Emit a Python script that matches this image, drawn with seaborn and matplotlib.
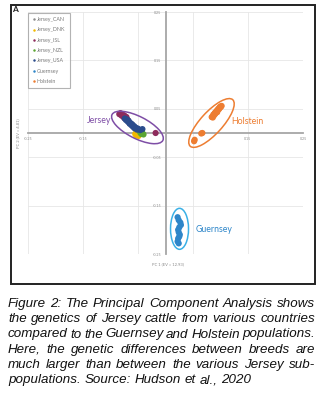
import numpy as np
import pandas as pd
import matplotlib
matplotlib.use("Agg")
import matplotlib.pyplot as plt
from matplotlib.patches import Ellipse, Rectangle
from matplotlib.transforms import ScaledTranslation
import seaborn as sns

# ---------------- data ----------------
groups = ["Jersey_CAN", "Jersey_DNK", "Jersey_ISL", "Jersey_NZL", "Jersey_USA", "Guernsey", "Holstein"]
colors = ["#8c8c8c", "#f2b800", "#8e2c5c", "#5aa532", "#2b4c8c", "#2e86c9", "#ed7d31"]

can_x = [-0.066, -0.061, -0.058, -0.055, -0.050, -0.047]
can_y = [0.022, 0.018, 0.012, 0.008, 0.004, 0.002]
dnk_x = [-0.055, -0.053, -0.051, -0.049, -0.052]
dnk_y = [-0.002, -0.005, -0.003, -0.006, 0.000]
isl_x = [-0.084, -0.082, -0.080, -0.079, -0.077, -0.076, -0.075, -0.074, -0.072, -0.071, -0.070, -0.068, -0.018]
isl_y = [0.039, 0.041, 0.036, 0.038, 0.034, 0.037, 0.031, 0.035, 0.030, 0.033, 0.028, 0.026, 0.000]
nzl_x = [-0.044, -0.042, -0.040, -0.046]
nzl_y = [-0.002, 0.000, -0.003, 0.001]
usa_x = [-0.074, -0.072, -0.070, -0.069, -0.067, -0.066, -0.065, -0.063, -0.062, -0.060,
         -0.059, -0.057, -0.056, -0.054, -0.052, -0.050, -0.046, -0.042]
usa_y = [0.030, 0.027, 0.028, 0.024, 0.025, 0.021, 0.019, 0.020, 0.016, 0.017,
         0.013, 0.014, 0.010, 0.011, 0.007, 0.009, 0.006, 0.008]
gue_x = [0.022, 0.024, 0.027, 0.028, 0.025, 0.023, 0.024, 0.026, 0.025, 0.023, 0.022, 0.024]
gue_y = [-0.174, -0.180, -0.185, -0.190, -0.195, -0.200, -0.205, -0.210, -0.214, -0.218, -0.224, -0.228]
hol_x = [0.084, 0.086, 0.087, 0.088, 0.089, 0.090, 0.091, 0.092, 0.093, 0.094, 0.095, 0.096,
         0.097, 0.098, 0.099, 0.100, 0.101, 0.102, 0.086, 0.090, 0.094, 0.098,
         0.067, 0.065, 0.053, 0.052]
hol_y = [0.033, 0.035, 0.038, 0.036, 0.040, 0.042, 0.041, 0.044, 0.046, 0.045, 0.048, 0.050,
         0.049, 0.052, 0.054, 0.053, 0.055, 0.056, 0.032, 0.039, 0.043, 0.051,
         0.000, -0.001, -0.014, -0.017]

tick_vals = [-0.25, -0.15, -0.05, 0.05, 0.15, 0.25]
x_tick_labels = ["-0.25", "-0.15", "", "", "0.15", "0.25"]
y_tick_labels = ["-0.25", "-0.15", "-0.05", "0.05", "0.15", "0.25"]
xlabel = "PC 1 (EV = 12.93)"
ylabel = "PC 2 (EV = 4.81)"

caption_lines = [
    "Figure 2: The Principal Component Analysis shows",
    "the genetics of Jersey cattle from various countries",
    "compared to the Guernsey and Holstein populations.",
    "Here, the genetic differences between breeds are",
    "much larger than between the various Jersey sub-",
    "populations. Source: Hudson et al., 2020",
]

xs = [can_x, dnk_x, isl_x, nzl_x, usa_x, gue_x, hol_x]
ys = [can_y, dnk_y, isl_y, nzl_y, usa_y, gue_y, hol_y]
df = pd.concat([pd.DataFrame({"PC1": x, "PC2": y, "group": g}) for g, x, y in zip(groups, xs, ys)],
               ignore_index=True)
palette = dict(zip(groups, colors))

# ---------------- figure ----------------
W, H = 323, 395
fig = plt.figure(figsize=(W / 100, H / 100), dpi=100)
sns.set_style("white")
plt.rcParams["font.family"] = ["Lato", "DejaVu Sans"]

def fx(px):
    return px / W

def fy(py):
    return 1 - py / H

ax = fig.add_axes([fx(28), fy(254), fx(303) - fx(28), fy(12) - fy(254)])

sns.scatterplot(data=df, x="PC1", y="PC2", hue="group", hue_order=groups, palette=palette,
                s=20, linewidth=0, ax=ax, zorder=3)

ax.set_xlim(-0.25, 0.25)
ax.set_ylim(-0.25, 0.25)
ax.set_xticks(tick_vals)
ax.set_yticks(tick_vals)
ax.set_xticklabels(x_tick_labels)
ax.set_yticklabels(y_tick_labels)
ax.grid(True, color="#e6e6e6", linewidth=0.6)
ax.set_axisbelow(True)
for s in ["top", "right"]:
    ax.spines[s].set_visible(False)
ax.spines["left"].set_position("zero")
ax.spines["bottom"].set_position("zero")
for s in ["left", "bottom"]:
    ax.spines[s].set_color("#a6a6a6")
    ax.spines[s].set_linewidth(1.3)
    ax.spines[s].set_zorder(2)
ax.tick_params(length=0, labelsize=2.6, labelcolor="#8a8a8a", pad=3)
ax.set_xlabel("")
ax.set_ylabel("")

fig.text(fx(168), fy(264), xlabel, fontsize=3, color="#8a8a8a", ha="center", va="center")
fig.text(fx(18), fy(133), ylabel, fontsize=3, color="#8a8a8a", ha="center", va="center", rotation=90)

# legend
handles, labels = ax.get_legend_handles_labels()
leg = ax.legend(handles, labels, loc="upper left", bbox_to_anchor=(fx(28), fy(13)),
                bbox_transform=fig.transFigure, borderaxespad=0, fontsize=3.8,
                labelspacing=1.0, handletextpad=0.1, handlelength=0.8, markerscale=0.4,
                frameon=True, fancybox=False, edgecolor="#a0a0a0", borderpad=0.8)
leg.get_frame().set_linewidth(0.8)
for t in leg.get_texts():
    t.set_color("#7a7a7a")

# ellipses (pixel-sized, anchored at data centers)
def add_ellipse(cx, cy, w_px, h_px, angle, color):
    tr = fig.dpi_scale_trans + ScaledTranslation(cx, cy, ax.transData)
    e = Ellipse((0, 0), w_px / 100, h_px / 100, angle=angle, transform=tr,
                fill=False, edgecolor=color, linewidth=1.1, zorder=4)
    ax.add_artist(e)

add_ellipse(-0.051, 0.0114, 57, 22, -27, "#7e4ea6")
add_ellipse(0.0836, 0.0207, 63, 22, 47.6, "#ed7d31")
add_ellipse(0.0255, -0.198, 18, 41, 0, "#3ab0e6")

ax.text(-0.098, 0.026, "Jersey", color="#7e4ea6", fontsize=6.3, ha="right", va="center")
ax.text(0.120, 0.024, "Holstein", color="#ed7d31", fontsize=6.3, ha="left", va="center")
ax.text(0.055, -0.200, "Guernsey", color="#2e86c9", fontsize=6.3, ha="left", va="center")

# outer frame and panel letter
fig.patches.append(Rectangle((fx(11), fy(284)), fx(315) - fx(11), fy(5) - fy(284),
                             transform=fig.transFigure, fill=False, edgecolor="#222222",
                             linewidth=1.4, zorder=10))
fig.text(fx(12), fy(10), "A", fontsize=6, fontweight="bold", color="#222222", ha="left", va="center")

# justified caption
renderer = fig.canvas.get_renderer()
x0, x1 = 8, 315
baselines = [307, 322.3, 337.5, 352.8, 368, 383.2]
kw = dict(fontsize=9.6, style="italic", family=["Liberation Sans", "DejaVu Sans"], color="#111111",
          va="baseline", ha="left")
for i, (line, yb) in enumerate(zip(caption_lines, baselines)):
    words = line.split()
    texts = [fig.text(0, fy(yb), w, **kw) for w in words]
    widths = [t.get_window_extent(renderer).width for t in texts]
    if i < len(caption_lines) - 1:
        gap = (x1 - x0 - sum(widths)) / (len(words) - 1)
    else:
        sp = fig.text(0, 0, "a b", **kw)
        sp2 = fig.text(0, 0, "ab", **kw)
        gap = sp.get_window_extent(renderer).width - sp2.get_window_extent(renderer).width
        sp.remove()
        sp2.remove()
    xpos = x0
    for t, w in zip(texts, widths):
        t.set_x(fx(xpos))
        xpos += w + gap

fig.savefig("out.png", dpi=100)
